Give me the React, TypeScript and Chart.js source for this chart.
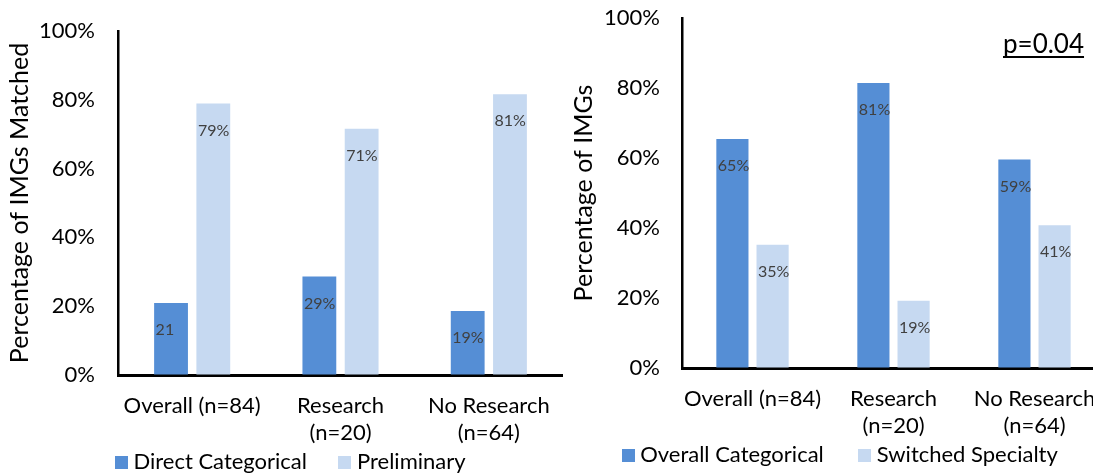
import { useEffect, useRef } from "react";
import { Chart, registerables } from "chart.js";

Chart.register(...registerables);

// ---------- data ----------
const categories = [["Overall (n=84)"], ["Research", "(n=20)"], ["No Research", "(n=64)"]];
const yTickValues = [0, 20, 40, 60, 80, 100];

const leftSeriesNames = ["Direct Categorical", "Preliminary"];
const leftDirect = [20.9, 28.6, 18.6];
const leftPrelim = [78.9, 71.6, 81.6];
const leftDirectLabels = ["21", "29%", "19%"];
const leftPrelimLabels = ["79%", "71%", "81%"];
const leftAxisTitle = "Percentage of IMGs Matched";

const rightSeriesNames = ["Overall Categorical", "Switched Specialty"];
const rightOverall = [65.4, 81.4, 59.6];
const rightSwitched = [35.2, 19.2, 40.8];
const rightOverallLabels = ["65%", "81%", "59%"];
const rightSwitchedLabels = ["35%", "19%", "41%"];
const rightAxisTitle = "Percentage of IMGs";
const pValueText = "p=0.04";

// ---------- styles ----------
const DARK = "#558ED5";
const LIGHT = "#C6D9F1";
const FONT = "Lato";

function swatch(color: string) {
  const cv = document.createElement("canvas");
  cv.width = 13;
  cv.height = 13;
  const g = cv.getContext("2d")!;
  g.fillStyle = color;
  g.fillRect(0, 0, 13, 13);
  return cv;
}

type Cfg = {
  names: string[];
  a: number[];
  b: number[];
  aLabels: string[];
  bLabels: string[];
  title: string;
  yWidth: number;
  yTickGap: number;
  padLeft: number;
  padTop: number;
  titlePadTop: number;
  xHeight: number;
  legendPad: number;
  note?: string;
};

function buildChart(canvas: HTMLCanvasElement, c: Cfg) {
  const swatches = [swatch(DARK), swatch(LIGHT)];
  const labelPlugin = {
    id: "barLabels",
    afterDatasetsDraw(chart: any) {
      const ctx = chart.ctx;
      const lbls = [c.aLabels, c.bLabels];
      ctx.save();
      ctx.font = `16px ${FONT}`;
      ctx.fillStyle = "#404040";
      ctx.textAlign = "left";
      ctx.textBaseline = "middle";
      chart.data.datasets.forEach((_d: any, i: number) => {
        const meta = chart.getDatasetMeta(i);
        meta.data.forEach((bar: any, j: number) => {
          const { x, y, width } = bar.getProps(["x", "y", "width"], true);
          ctx.fillText(lbls[i][j], x - width / 2 + 1.5, y + 27);
        });
      });
      ctx.restore();
    },
  };
  const notePlugin = {
    id: "note",
    afterDraw(chart: any) {
      if (!c.note) return;
      const ctx = chart.ctx;
      const area = chart.chartArea;
      ctx.save();
      ctx.font = `26px ${FONT}`;
      ctx.fillStyle = "#000";
      ctx.textAlign = "left";
      ctx.textBaseline = "alphabetic";
      const x = area.right - 102;
      const y = area.top + 35;
      ctx.fillText(c.note, x, y);
      const w = ctx.measureText(c.note).width;
      ctx.fillRect(x, y + 3, w, 2);
      ctx.restore();
    },
  };

  return new Chart(canvas, {
    type: "bar",
    data: {
      labels: categories,
      datasets: [
        { label: c.names[0], data: c.a, backgroundColor: DARK, borderWidth: 0 },
        { label: c.names[1], data: c.b, backgroundColor: LIGHT, borderWidth: 0 },
      ],
    },
    options: {
      responsive: false,
      animation: false,
      devicePixelRatio: 1,
      layout: { padding: { left: c.padLeft, top: c.padTop, right: 0, bottom: 0 } },
      datasets: { bar: { barPercentage: 0.8, categoryPercentage: 0.57 } },
      plugins: {
        legend: {
          position: "bottom",
          labels: {
            usePointStyle: true,
            pointStyleWidth: 2,
            boxHeight: 13,
            padding: c.legendPad,
            color: "#000",
            font: { family: FONT, size: 22 },
            generateLabels: (chart: any) =>
              (Chart.defaults.plugins.legend.labels as any)
                .generateLabels(chart)
                .map((it: any, i: number) => ({ ...it, pointStyle: swatches[i] })),
          },
        },
        tooltip: { enabled: false },
      },
      scales: {
        x: {
          grid: { display: false, drawTicks: false },
          border: { display: true, color: "#000", width: 3 },
          ticks: {
            color: "#000",
            mirror: true,
            padding: -44,
            maxRotation: 0,
            autoSkip: false,
            font: { family: FONT, size: 22, lineHeight: "27px" },
          },
          afterFit: (s: any) => {
            s.height = c.xHeight;
          },
        },
        y: {
          min: 0,
          max: 100,
          afterBuildTicks: (s: any) => {
            s.ticks = yTickValues.map((v) => ({ value: v }));
          },
          grid: {
            display: true,
            drawOnChartArea: false,
            drawTicks: true,
            tickLength: c.yTickGap,
            tickColor: "rgba(0,0,0,0)",
          },
          border: { display: true, color: "#000", width: 2.5 },
          ticks: {
            color: "#000",
            padding: 0,
            font: { family: FONT, size: 22 },
            callback: (v: any) => v + "%",
          },
          title: {
            display: true,
            text: c.title,
            color: "#000",
            font: { family: FONT, size: 25 },
            padding: { top: c.titlePadTop, bottom: 0 },
          },
          afterFit: (s: any) => {
            s.width = c.yWidth;
          },
        },
      },
    },
    plugins: [labelPlugin, notePlugin],
  } as any);
}

export default function App() {
  const leftRef = useRef<HTMLCanvasElement>(null);
  const rightRef = useRef<HTMLCanvasElement>(null);

  useEffect(() => {
    const left = buildChart(leftRef.current!, {
      names: leftSeriesNames,
      a: leftDirect,
      b: leftPrelim,
      aLabels: leftDirectLabels,
      bLabels: leftPrelimLabels,
      title: leftAxisTitle,
      yWidth: 95,
      yTickGap: 23,
      padLeft: 23,
      padTop: 31,
      titlePadTop: -18,
      xHeight: 39,
      legendPad: 37,
    });
    const right = buildChart(rightRef.current!, {
      names: rightSeriesNames,
      a: rightOverall,
      b: rightSwitched,
      aLabels: rightOverallLabels,
      bLabels: rightSwitchedLabels,
      title: rightAxisTitle,
      yWidth: 102,
      yTickGap: 22,
      padLeft: 10,
      padTop: 18,
      titlePadTop: -11,
      xHeight: 36,
      legendPad: 40,
      note: pValueText,
    });
    return () => {
      left.destroy();
      right.destroy();
    };
  }, []);

  return (
    <div
      style={{
        position: "fixed",
        left: 0,
        top: 0,
        width: 1093,
        height: 473,
        overflow: "hidden",
        background: "#fff",
      }}
    >
      <canvas
        ref={leftRef}
        width={563}
        height={483}
        style={{ position: "absolute", left: 0, top: 0, width: 563, height: 483 }}
      />
      <canvas
        ref={rightRef}
        width={535}
        height={476}
        style={{ position: "absolute", left: 570, top: 0, width: 535, height: 476 }}
      />
    </div>
  );
}
